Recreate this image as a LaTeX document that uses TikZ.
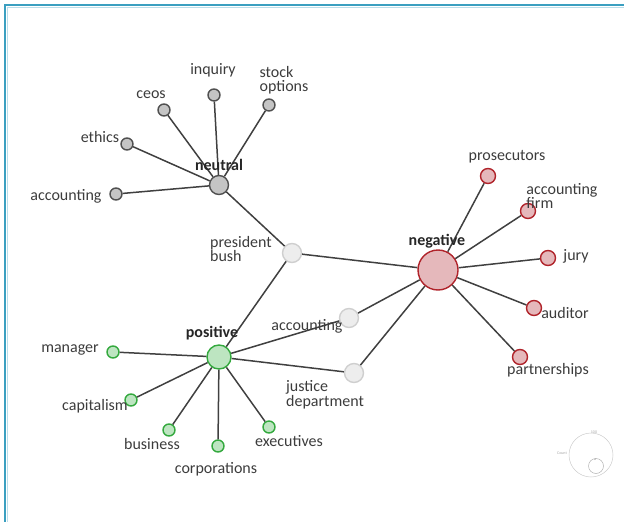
\documentclass[tikz,border=0pt]{standalone}
\usepackage{fontspec}
\setmainfont{Carlito}
\usepackage{tikz}

\definecolor{frameblue}{HTML}{3A9FC0}
\definecolor{edgegray}{HTML}{404040}
\definecolor{neutfill}{HTML}{C4C4C4}
\definecolor{neutline}{HTML}{505050}
\definecolor{midfill}{HTML}{EDEDED}
\definecolor{midline}{HTML}{CFCFCF}
\definecolor{negfill}{HTML}{E5B8BB}
\definecolor{negline}{HTML}{B0232A}
\definecolor{posfill}{HTML}{BDE5C1}
\definecolor{posline}{HTML}{34A93E}
\definecolor{txtgray}{HTML}{3C3C3C}

\tikzset{
  vtx/.style={circle, inner sep=0pt, line width=1.4pt},
  neutvtx/.style={vtx, fill=neutfill, draw=neutline},
  midvtx/.style={vtx, fill=midfill, draw=midline},
  negvtx/.style={vtx, fill=negfill, draw=negline},
  posvtx/.style={vtx, fill=posfill, draw=posline},
  lbl/.style={text=txtgray, font=\fontsize{16}{14.5}\selectfont, inner sep=0pt, align=left},
  hub/.style={lbl, font=\fontsize{16}{14.5}\selectfont\bfseries, text=black!85},
  link/.style={draw=edgegray, line width=1.5pt}
}

\begin{document}
\begin{tikzpicture}[x=1pt, y=-1pt]
\useasboundingbox (0,0) rectangle (624,522);
\draw[frameblue, line width=2pt] (5,522) -- (5,5) -- (624,5);
\draw[frameblue!35, line width=0.8pt] (7.5,522) -- (7.5,7.5) -- (624,7.5);

% neutral
\node[neutvtx, minimum size=19pt] (neutral) at (219,185) {};
\node[neutvtx, minimum size=12pt] (ceos) at (164,110) {};
\node[neutvtx, minimum size=12pt] (inquiry) at (214,95) {};
\node[neutvtx, minimum size=12pt] (stock) at (269,105) {};
\node[neutvtx, minimum size=12pt] (ethics) at (127,144) {};
\node[neutvtx, minimum size=12pt] (acc1) at (116,194) {};

% shared
\node[midvtx, minimum size=19pt] (bush) at (292,253) {};
\node[midvtx, minimum size=19pt] (acc2) at (349,318) {};
\node[midvtx, minimum size=19pt] (justice) at (354,373) {};

% negative
\node[negvtx, minimum size=40pt] (negative) at (438,270) {};
\node[negvtx, minimum size=15pt] (prosec) at (488,176) {};
\node[negvtx, minimum size=15pt] (firm) at (528,211) {};
\node[negvtx, minimum size=15pt] (jury) at (548,258) {};
\node[negvtx, minimum size=15pt] (auditor) at (534,308) {};
\node[negvtx, minimum size=15pt] (partner) at (520,357) {};

% positive
\node[posvtx, minimum size=24pt] (positive) at (219,357) {};
\node[posvtx, minimum size=12pt] (manager) at (113,352) {};
\node[posvtx, minimum size=12pt] (capital) at (131,400) {};
\node[posvtx, minimum size=12pt] (business) at (169,430) {};
\node[posvtx, minimum size=12pt] (corp) at (218,446) {};
\node[posvtx, minimum size=12pt] (exec) at (269,427) {};

% edges
\foreach \a/\b in {neutral/ceos, neutral/inquiry, neutral/stock, neutral/ethics,
  neutral/acc1, neutral/bush, bush/negative, bush/positive,
  negative/prosec, negative/firm, negative/jury, negative/auditor, negative/partner,
  negative/acc2, negative/justice, positive/acc2, positive/justice,
  positive/manager, positive/capital, positive/business, positive/corp, positive/exec}
  \draw[link] (\a) -- (\b);

% labels
\node[hub] (neutral-t) at (219,165) {neutral};
\node[lbl] (ceos-t) at (151,95) {ceos};
\node[lbl] (inquiry-t) at (213,70) {inquiry};
\node[lbl] (stock-t) at (284,80) {stock\\options};
\node[lbl] (ethics-t) at (100,137) {ethics};
\node[lbl] (acc1-t) at (66,196) {accounting};
\node[lbl] (bush-t) at (241,249) {president\\bush};
\node[lbl] (acc2-t) at (307,326) {accounting};
\node[lbl] (justice-t) at (325,395) {justice\\department};
\node[hub] (negative-t) at (437,241) {negative};
\node[lbl] (prosec-t) at (507,157) {prosecutors};
\node[lbl] (firm-t) at (562,196) {accounting\\firm};
\node[lbl] (jury-t) at (576,256) {jury};
\node[lbl] (auditor-t) at (565,313) {auditor};
\node[lbl] (partner-t) at (548,370) {partnerships};
\node[hub] (positive-t) at (212,333) {positive};
\node[lbl] (manager-t) at (70,350) {manager};
\node[lbl] (capital-t) at (95,406) {capitalism};
\node[lbl] (business-t) at (152,444) {business};
\node[lbl] (corp-t) at (216,469) {corporations};
\node[lbl] (exec-t) at (289,441) {executives};

% zoom widget
\node[circle, draw=black!20, line width=0.5pt, minimum size=44pt, inner sep=0pt] (dial) at (591,455) {};
\node[circle, draw=black!30, line width=0.5pt, minimum size=15pt, inner sep=0pt] (knob) at (596,466) {};
\node[text=black!35, font=\fontsize{4}{4}\selectfont, inner sep=0pt] (dial-top) at (594,432) {100};
\node[text=black!35, font=\fontsize{4}{4}\selectfont, inner sep=0pt] (dial-left) at (562,453) {Count};
\node[text=black!40, font=\fontsize{4}{4}\selectfont, inner sep=0pt] (knob-t) at (595,460) {a};
\end{tikzpicture}
\end{document}
